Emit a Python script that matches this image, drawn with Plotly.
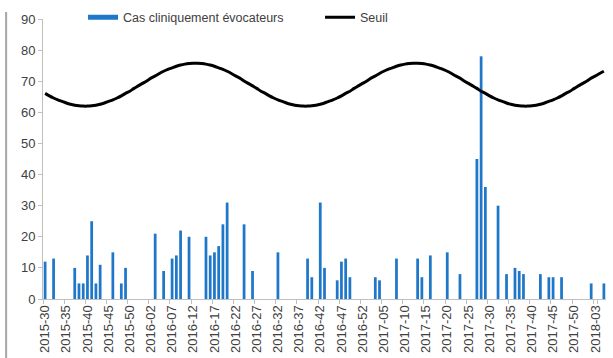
import plotly.graph_objects as go

# ISO weeks from 2015-30 to 2018-05 (2015 has 53 weeks)
year_weeks = [(2015, 30, 53), (2016, 1, 52), (2017, 1, 52), (2018, 1, 5)]
weeks = [f"{y}-{w:02d}" for (y, a, b) in year_weeks for w in range(a, b + 1)]

# Weekly cases ("Cas cliniquement évocateurs")
case_weeks = ["2015-30", "2015-32", "2015-37", "2015-38", "2015-39", "2015-40", "2015-41",
              "2015-42", "2015-43", "2015-46", "2015-48", "2015-49",
              "2016-03", "2016-05", "2016-07", "2016-08", "2016-09", "2016-11",
              "2016-15", "2016-16", "2016-17", "2016-18", "2016-19", "2016-20",
              "2016-24", "2016-26", "2016-32", "2016-39", "2016-40", "2016-42",
              "2016-43", "2016-46", "2016-47", "2016-48", "2016-49",
              "2017-03", "2017-04", "2017-08", "2017-13", "2017-14", "2017-16",
              "2017-20", "2017-23", "2017-27", "2017-28", "2017-29", "2017-32",
              "2017-34", "2017-36", "2017-37", "2017-38", "2017-42", "2017-44",
              "2017-45", "2017-47", "2018-02", "2018-05"]
case_values = [12, 13, 10, 5, 5, 14, 25, 5, 11, 15, 5, 10,
               21, 9, 13, 14, 22, 20,
               20, 14, 15, 17, 24, 31,
               24, 9, 15, 13, 7, 31,
               10, 6, 12, 13, 7,
               7, 6, 13, 13, 7, 14,
               15, 8, 45, 78, 36, 30,
               8, 10, 9, 8, 8, 7,
               7, 7, 5, 5]

# Threshold ("Seuil"), one value per week
seuil = [66.1, 65.3, 64.6, 64.0, 63.5, 63.0, 62.6, 62.3, 62.1, 62.0, 62.0, 62.1, 62.3,
         62.6, 63.0, 63.5, 64.0, 64.6, 65.3, 66.1, 66.8, 67.7, 68.5, 69.3, 70.1, 71.0,
         71.7, 72.5, 73.2, 73.8, 74.3, 74.8, 75.2, 75.5, 75.7, 75.8, 75.8, 75.7, 75.5,
         75.2, 74.8, 74.3, 73.8, 73.2, 72.5, 71.7, 71.0, 70.1, 69.3, 68.5, 67.7, 66.8,
         66.1, 65.3, 64.6, 64.0, 63.5, 63.0, 62.6, 62.3, 62.1, 62.0, 62.0, 62.1, 62.3,
         62.6, 63.0, 63.5, 64.0, 64.6, 65.3, 66.1, 66.8, 67.7, 68.5, 69.3, 70.1, 71.0,
         71.7, 72.5, 73.2, 73.8, 74.3, 74.8, 75.2, 75.5, 75.7, 75.8, 75.8, 75.7, 75.5,
         75.2, 74.8, 74.3, 73.8, 73.2, 72.5, 71.7, 71.0, 70.1, 69.3, 68.5, 67.7, 66.8,
         66.1, 65.3, 64.6, 64.0, 63.5, 63.0, 62.6, 62.3, 62.1, 62.0, 62.0, 62.1, 62.3,
         62.6, 63.0, 63.5, 64.0, 64.6, 65.3, 66.1, 66.8, 67.7, 68.5, 69.3, 70.1, 71.0,
         71.7, 72.5, 73.2]

tick_labels = weeks[::5]
y_ticks = list(range(0, 91, 10))

BLUE = "#1f77c9"
FONT = "Liberation Sans"
TXT = "#404040"
AX = "#bfbfbf"

fig = go.Figure()
fig.add_trace(go.Bar(x=case_weeks, y=case_values, marker_color=BLUE,
                     marker_line_width=0, showlegend=False,
                     name="Cas cliniquement évocateurs"))
# legend swatch for the bars (drawn as a thick line like the original)
fig.add_trace(go.Scatter(x=[None], y=[None], mode="lines",
                         line=dict(color=BLUE, width=5),
                         name="Cas cliniquement évocateurs"))
fig.add_trace(go.Scatter(x=weeks, y=seuil, mode="lines", name="Seuil",
                         line=dict(color="black", width=3, shape="spline")))

fig.update_layout(
    width=613, height=358,
    margin=dict(l=43, r=7, t=19, b=59, autoexpand=False),
    paper_bgcolor="white", plot_bgcolor="white",
    font=dict(family=FONT, size=13, color=TXT),
    bargap=0.35,
    legend=dict(orientation="h", x=0.0711, y=1.005, xanchor="left", yanchor="middle",
                entrywidth=192, entrywidthmode="pixels",
                bgcolor="rgba(0,0,0,0)", font=dict(size=12.5, color=TXT),
                itemwidth=30, traceorder="normal"),
    xaxis=dict(type="category", categoryorder="array", categoryarray=weeks,
               range=[-0.5, len(weeks) - 0.5], automargin=False,
               tickmode="array", tickvals=tick_labels, ticktext=tick_labels,
               tickangle=-90, tickson="boundaries", ticks="outside", ticklen=4,
               tickcolor=AX, showline=True, linecolor=AX, linewidth=1,
               showgrid=False, tickfont=dict(size=13, color=TXT)),
    yaxis=dict(range=[0, 90], tickvals=y_ticks, ticks="outside", ticklen=4,
               automargin=False,
               tickcolor=AX, showline=True, linecolor=AX, linewidth=1,
               showgrid=False, zeroline=False, tickfont=dict(size=13, color=TXT)),
    shapes=[dict(type="line", xref="paper", yref="paper",
                 x0=-0.0655, x1=-0.0655, y0=-0.3, y1=1.025,
                 line=dict(color="#a6a6a6", width=2))],
)

fig.write_html("out.html", config={"displayModeBar": False},
               post_script="document.body.style.margin='0';document.body.style.overflow='hidden';")
